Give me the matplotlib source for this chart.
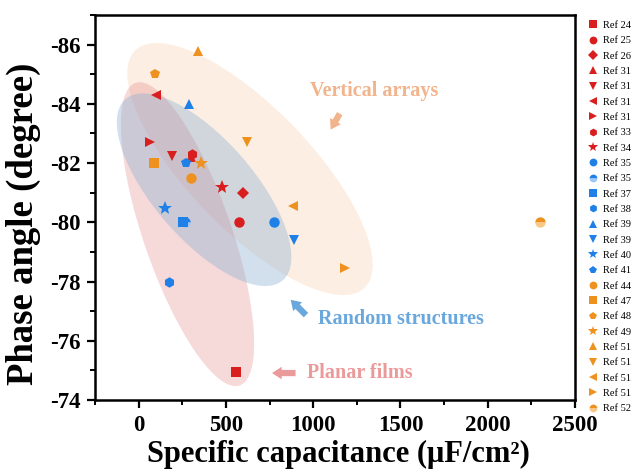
import matplotlib
matplotlib.use("Agg")
import matplotlib.pyplot as plt
from matplotlib.patches import Ellipse
from matplotlib.transforms import ScaledTranslation
from matplotlib.ticker import MultipleLocator

plt.rcParams['font.family'] = ['Liberation Serif', 'DejaVu Serif']
plt.rcParams['axes.unicode_minus'] = False

RED = '#D81E1E'
BLUE = '#1F80E8'
ORANGE = '#EF911E'

# Reference labels, markers, colours and values (capacitance, phase angle)
refs = ['Ref 24', 'Ref 25', 'Ref 26', 'Ref 31', 'Ref 31', 'Ref 31', 'Ref 31', 'Ref 33', 'Ref 34',
        'Ref 35', 'Ref 35', 'Ref 37', 'Ref 38', 'Ref 39', 'Ref 39', 'Ref 40', 'Ref 41',
        'Ref 44', 'Ref 47', 'Ref 48', 'Ref 49', 'Ref 51', 'Ref 51', 'Ref 51', 'Ref 51', 'Ref 52']
markers = ['s', 'o', 'D', '^', 'v', '<', '>', 'h', '*',
           'o', 'o', 's', 'h', '^', 'v', '*', 'p',
           'o', 's', 'p', '*', '^', 'v', '<', '>', 'o']
groups = ['r'] * 9 + ['b'] * 8 + ['o'] * 9
shaded = [False] * 10 + [True] + [False] * 14 + [True]
capacitance = [560, 575, 600, 298, 190, 100, 65, 308, 480,
               775, 268, 256, 175, 290, 890, 150, 270,
               300, 90, 95, 360, 340, 620, 885, 1180, 2300]
phase = [-74.95, -80.0, -81.0, -82.2, -82.25, -84.3, -82.7, -82.3, -81.2,
         -80.0, -80.0, -80.0, -78.0, -84.0, -79.4, -80.5, -82.0,
         -81.5, -82.0, -85.0, -82.0, -85.8, -82.7, -80.55, -78.45, -80.0]

fig = plt.figure(figsize=(6.36, 4.75), dpi=100)
ax = fig.add_axes([95/636, 75/475, 480/636, 385/475])
ax.set_xlim(-250, 2500)
ax.set_ylim(-74, -87)

# Shaded group regions (centre in data units, size in inches, angle in degrees)
regions = [
    (638, -81.8, 3.30, 1.22, -46, '#F5BC8E', 0.25),
    (280, -79.6, 3.20, 0.88, -71, '#E07777', 0.28),
    (375, -81.1, 2.40, 1.00, -49, '#8AAFD2', 0.38),
]
for cx, cy, w, h, ang, col, al in regions:
    e = Ellipse((0, 0), w, h, angle=ang,
                transform=fig.dpi_scale_trans + ScaledTranslation(cx, cy, ax.transData),
                facecolor=col, alpha=al, edgecolor='none', zorder=1)
    ax.add_patch(e)

cmap = {'r': RED, 'b': BLUE, 'o': ORANGE}
lighter = {'r': '#F08080', 'b': '#9CC8F5', 'o': '#F8C888'}
for lab, m, g, sh, x, y in zip(refs, markers, groups, shaded, capacitance, phase):
    ms = 7.5
    if m == '*':
        ms = 10
    elif m == 'D':
        ms = 6.5
    kw = dict(marker=m, linestyle='none', markersize=ms, color=cmap[g],
              markeredgewidth=0, label=lab, zorder=3)
    if sh:
        kw.update(fillstyle='top', markerfacecoloralt=lighter[g])
    ax.plot([x], [y], **kw)

# Annotations
arrow_style = 'simple,head_width=0.9,head_length=0.7,tail_width=0.45'
ax.text(1348, -84.45, 'Vertical arrays', color='#F2B48C', fontsize=14.5, fontweight='bold',
        ha='center', va='center')
ax.annotate('', xy=(1092, -83.05), xytext=(1160, -83.75),
            arrowprops=dict(arrowstyle=arrow_style, color='#F2B48C', lw=0))
ax.text(1503, -76.73, 'Random structures', color='#6AA7DD', fontsize=14.5, fontweight='bold',
        ha='center', va='center')
ax.annotate('', xy=(860, -77.45), xytext=(970, -76.8),
            arrowprops=dict(arrowstyle=arrow_style, color='#6AA7DD', lw=0))
ax.text(1268, -74.91, 'Planar films', color='#EB9A9A', fontsize=14.5, fontweight='bold',
        ha='center', va='center')
ax.annotate('', xy=(748, -74.91), xytext=(915, -74.91),
            arrowprops=dict(arrowstyle=arrow_style, color='#EB9A9A', lw=0))

ax.xaxis.set_major_locator(MultipleLocator(500))
ax.xaxis.set_minor_locator(MultipleLocator(250))
ax.yaxis.set_major_locator(MultipleLocator(2))
ax.yaxis.set_minor_locator(MultipleLocator(1))
ax.tick_params(which='major', direction='out', length=6, width=1.6, labelsize=16.5)
ax.tick_params(axis='y', which='major', pad=4)
ax.tick_params(axis='x', which='major', pad=5)
ax.tick_params(which='minor', direction='out', length=3.5, width=1.4)
for lbl in ax.get_xticklabels() + ax.get_yticklabels():
    lbl.set_fontweight('bold')
for s in ax.spines.values():
    s.set_linewidth(1.8)

ax.set_xlabel('Specific capacitance (μF/cm²)', fontsize=22, fontweight='bold')
ax.set_ylabel('Phase angle (degree)', fontsize=26.5, fontweight='bold')
ax.xaxis.set_label_coords(0.508, -0.1025)
ax.yaxis.set_label_coords(-0.112, 0.457)

leg = ax.legend(loc='upper left', bbox_to_anchor=(1.015, 1.0), frameon=False,
                fontsize=7.5, markerscale=0.75, handlelength=1.0, handletextpad=0.4,
                labelspacing=0.58, borderaxespad=0.15, numpoints=1)

fig.savefig('out.png', dpi=100)
